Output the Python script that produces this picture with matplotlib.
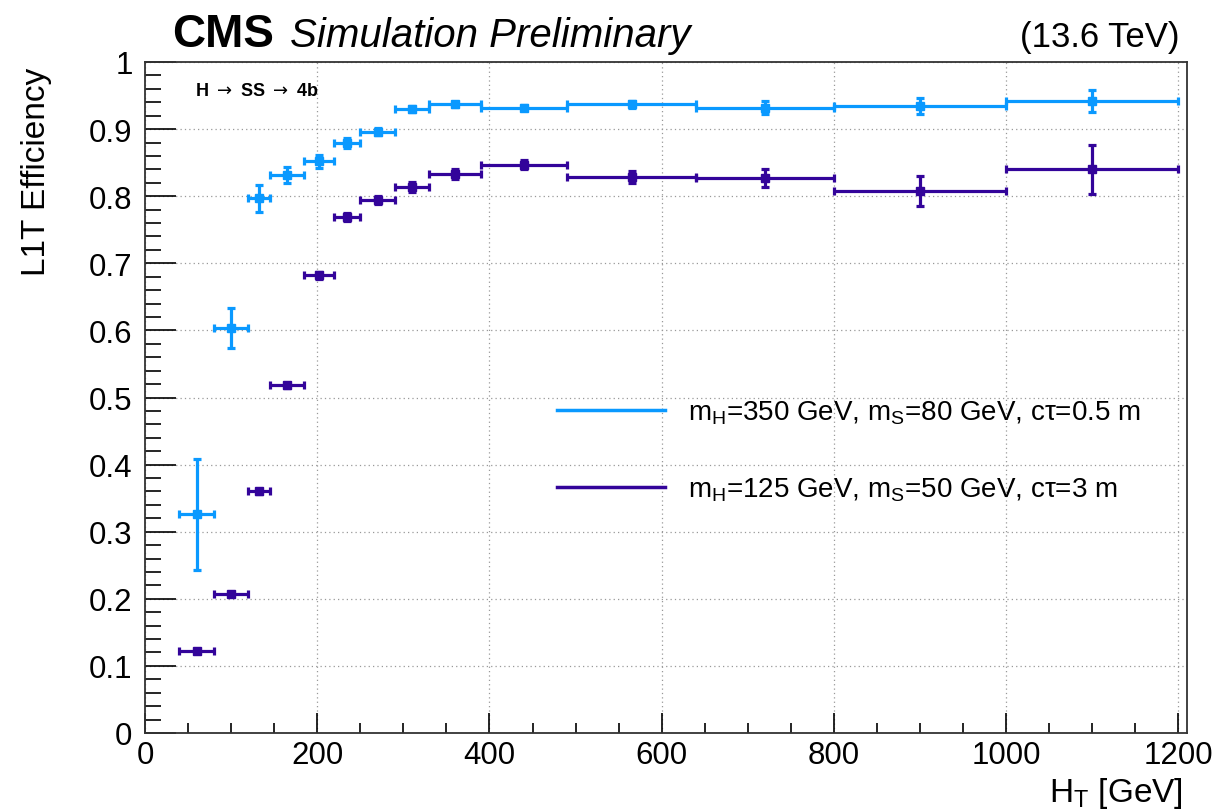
import numpy as np
import matplotlib.pyplot as plt
from matplotlib.lines import Line2D
from matplotlib.ticker import MultipleLocator

plt.rcParams['font.family'] = ['Liberation Sans', 'DejaVu Sans']
plt.rcParams['mathtext.fontset'] = 'custom'
plt.rcParams['mathtext.rm'] = 'Liberation Sans'
plt.rcParams['mathtext.it'] = 'Liberation Sans:italic'
plt.rcParams['mathtext.bf'] = 'Liberation Sans:bold'

# ---------- data ----------
ht_edges = [40, 80, 120, 145, 185, 220, 250, 290, 330, 390, 490, 640, 800, 1000, 1200]

eff_350 = [0.326, 0.604, 0.797, 0.832, 0.852, 0.879, 0.896, 0.930, 0.937,
           0.932, 0.937, 0.932, 0.934, 0.942]
err_350 = [0.083, 0.030, 0.020, 0.012, 0.010, 0.007, 0.005, 0.005, 0.004,
           0.004, 0.005, 0.010, 0.012, 0.016]

eff_125 = [0.122, 0.207, 0.360, 0.518, 0.682, 0.769, 0.795, 0.814, 0.833,
           0.847, 0.828, 0.827, 0.808, 0.840]
err_125 = [0.003, 0.003, 0.004, 0.004, 0.005, 0.006, 0.006, 0.007, 0.007,
           0.007, 0.009, 0.014, 0.022, 0.036]

label_350 = r'm$_{\mathrm{H}}$=350 GeV, m$_{\mathrm{S}}$=80 GeV, c$\mathrm{\tau}$=0.5 m'
label_125 = r'm$_{\mathrm{H}}$=125 GeV, m$_{\mathrm{S}}$=50 GeV, c$\mathrm{\tau}$=3 m'

col_350 = '#0a99ff'
col_125 = '#33049a'

edges = np.array(ht_edges, dtype=float)
centers = 0.5 * (edges[1:] + edges[:-1])
half = 0.5 * (edges[1:] - edges[:-1])

# ---------- plot ----------
fig = plt.figure(figsize=(12.23, 8.12), dpi=100)
ax = fig.add_axes([145 / 1223, 1 - 734 / 812, 1042 / 1223, 671 / 812])

for eff, err, col in [(eff_350, err_350, col_350), (eff_125, err_125, col_125)]:
    ax.errorbar(centers, eff, xerr=half, yerr=err, fmt='s', color=col,
                markersize=5.5, elinewidth=2.3, capsize=3, capthick=2.3,
                zorder=3)

ax.set_xlim(0, 1210)
ax.set_ylim(0, 1)
ax.xaxis.set_major_locator(MultipleLocator(200))
ax.xaxis.set_minor_locator(MultipleLocator(50))
ax.yaxis.set_minor_locator(MultipleLocator(0.02))
ax.set_yticks(np.arange(0, 1.01, 0.1))
ax.set_yticklabels(['0', '0.1', '0.2', '0.3', '0.4', '0.5', '0.6', '0.7', '0.8', '0.9', '1'])

ax.tick_params(axis='both', which='both', direction='in', top=False, right=False,
               labelsize=22.5, color='black')
ax.tick_params(axis='y', which='major', length=22, width=1.2, pad=9)
ax.tick_params(axis='y', which='minor', length=11.5, width=1.2)
ax.tick_params(axis='x', which='major', length=14.5, width=1.2, pad=5)
ax.tick_params(axis='x', which='minor', length=7, width=1.2)

ax.grid(True, which='major', linestyle=(0, (1, 2.5)), color='#999999', linewidth=0.9)
for s in ax.spines.values():
    s.set_color('#333333')
    s.set_linewidth(1.3)

handles = [Line2D([], [], color=col_350, lw=2.5), Line2D([], [], color=col_125, lw=2.5)]
ax.legend(handles, [label_350, label_125], loc='upper left',
          bbox_to_anchor=(0.395, 0.498), frameon=False, fontsize=20,
          handlelength=3.9, handletextpad=0.83, labelspacing=1.78, borderpad=0,
          borderaxespad=0)

ax.text(0.048, 0.951, r'H $\rightarrow$ SS $\rightarrow$ 4b', transform=ax.transAxes,
        fontsize=13, fontweight='bold', va='baseline', ha='left',
        math_fontfamily='dejavusans')

fig.text(172 / 1223, 1 - 47 / 812, 'CMS', fontsize=33, fontweight='bold',
         ha='left', va='baseline')
fig.text(290 / 1223, 1 - 47 / 812, 'Simulation Preliminary', fontsize=29,
         style='italic', ha='left', va='baseline')
fig.text(1180 / 1223, 1 - 47 / 812, '(13.6 TeV)', fontsize=25,
         ha='right', va='baseline')

fig.text(37 / 1223, 1 - 68 / 812, 'L1T Efficiency', fontsize=24, rotation=90,
         ha='center', va='top')
fig.text(1183 / 1223, 1 - 802 / 812, r'H$_{\mathrm{T}}$ [GeV]', fontsize=24,
         ha='right', va='baseline')

fig.savefig('out.png', dpi=100)
